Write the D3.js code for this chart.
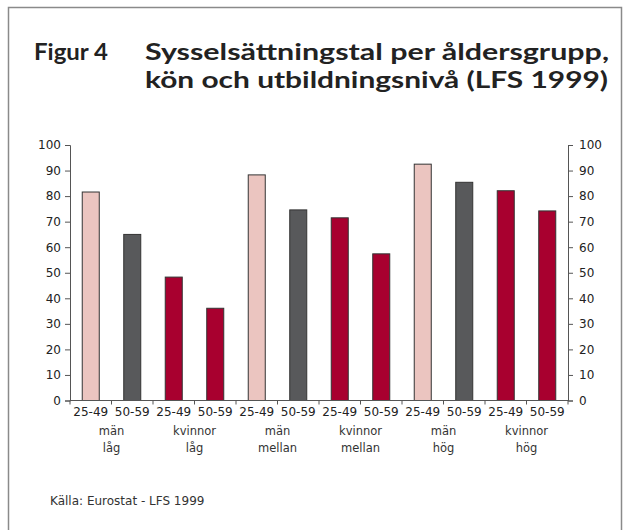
<!DOCTYPE html>
<html><head><meta charset="utf-8">
<script src="https://cdn.jsdelivr.net/npm/d3@7"></script>
<style>body{margin:0;background:#fff}svg{display:block}</style>
</head><body><svg id="c" width="623" height="530"></svg>
<script>
const ageLabels = ["25-49","50-59","25-49","50-59","25-49","50-59","25-49","50-59","25-49","50-59","25-49","50-59"];
const values = [81.6, 65.0, 48.3, 36.1, 88.3, 74.6, 71.5, 57.4, 92.5, 85.4, 82.1, 74.2];
const barType = ["manYoung","manOld","woman","woman","manYoung","manOld","woman","woman","manYoung","manOld","woman","woman"];
const groupLine1 = ["män","kvinnor","män","kvinnor","män","kvinnor"];
const groupLine2 = ["låg","låg","mellan","mellan","hög","hög"];
const yTicks = [0,10,20,30,40,50,60,70,80,90,100];
const colors = {manYoung:"#ebc5c0", manOld:"#58595b", woman:"#a8002f"};

const svg = d3.select("#c");
svg.append("path").attr("d","M8.5,535 V7.5 H621.5 V535").attr("fill","none").attr("stroke","#8a8a8a").attr("stroke-width",1.5);

const tf = "Lato, 'Open Sans', sans-serif";
svg.append("text").attr("x",34).attr("y",60).attr("font-family",tf).attr("font-weight","bold").attr("font-size",23).attr("fill","#222").attr("textLength",74).attr("lengthAdjust","spacingAndGlyphs").text("Figur 4");
svg.append("text").attr("x",145).attr("y",60).attr("font-family",tf).attr("font-weight","bold").attr("font-size",23).attr("fill","#222").attr("textLength",464).attr("lengthAdjust","spacingAndGlyphs").text("Sysselsättningstal per åldersgrupp,");
svg.append("text").attr("x",145).attr("y",88).attr("font-family",tf).attr("font-weight","bold").attr("font-size",23).attr("fill","#222").attr("textLength",463).attr("lengthAdjust","spacingAndGlyphs").text("kön och utbildningsnivå (LFS 1999)");

const x0 = 70, x1 = 568, yTop = 145, yBot = 400.5;
const x = d3.scaleBand().domain(d3.range(values.length)).range([x0,x1]).paddingInner(0.59).paddingOuter(0.295);
const y = d3.scaleLinear().domain([0,100]).range([yBot,yTop]);

const lf = "'DejaVu Sans', Verdana, sans-serif";
const leftAxis = d3.axisLeft(y).tickValues(yTicks).tickSize(5).tickPadding(4);
const rightAxis = d3.axisRight(y).tickValues(yTicks).tickSize(5).tickPadding(6);
const gl = svg.append("g").attr("transform",`translate(${x0},0)`).call(leftAxis);
const gr = svg.append("g").attr("transform",`translate(${x1},0)`).call(rightAxis);
[gl,gr].forEach(g=>{
  g.select(".domain").attr("stroke","#555");
  g.selectAll(".tick line").attr("stroke","#555");
  g.selectAll("text").attr("font-family",lf).attr("font-size",12).attr("fill","#222");
});

svg.selectAll("rect.bar").data(values).join("rect").attr("class","bar")
  .attr("x",(d,i)=>x(i)).attr("width",x.bandwidth())
  .attr("y",d=>y(d)).attr("height",d=>y(0)-y(d))
  .attr("fill",(d,i)=>colors[barType[i]]).attr("stroke","#333").attr("stroke-width",1);

const xb = d3.scaleLinear().domain([0,values.length]).range([x0,x1]);
const gx = svg.append("g").attr("transform",`translate(0,${yBot})`);
gx.append("line").attr("x1",x0).attr("x2",x1).attr("stroke","#555");
gx.selectAll("line.t").data(d3.range(values.length+1)).join("line").attr("class","t")
  .attr("x1",d=>xb(d)).attr("x2",d=>xb(d)).attr("y1",0).attr("y2",4).attr("stroke","#555");
svg.selectAll("text.age").data(ageLabels).join("text").attr("class","age")
  .attr("x",(d,i)=>x(i)+x.bandwidth()/2).attr("y",416).attr("text-anchor","middle")
  .attr("font-family",lf).attr("font-size",12).attr("fill","#222").text(d=>d);
svg.selectAll("text.g1").data(groupLine1).join("text").attr("class","g1")
  .attr("x",(d,i)=>xb(2*i+1)).attr("y",435).attr("text-anchor","middle")
  .attr("font-family",lf).attr("font-size",11.5).attr("fill","#333").text(d=>d);
svg.selectAll("text.g2").data(groupLine2).join("text").attr("class","g2")
  .attr("x",(d,i)=>xb(2*i+1)).attr("y",452).attr("text-anchor","middle")
  .attr("font-family",lf).attr("font-size",11.5).attr("fill","#333").text(d=>d);

svg.append("text").attr("x",50).attr("y",505).attr("font-family",lf).attr("font-size",12).attr("fill","#333").text("Källa: Eurostat - LFS 1999");
</script></body></html>
